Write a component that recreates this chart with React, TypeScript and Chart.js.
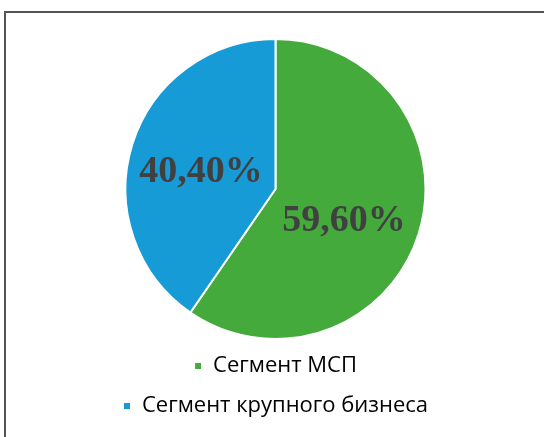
import React, { useEffect, useRef } from 'react';
import { Chart, registerables } from 'chart.js';

Chart.register(...registerables);

const categories = ['Сегмент МСП', 'Сегмент крупного бизнеса'];
const shares = [59.6, 40.4];
const sliceColors = ['#43AA3B', '#179BD6'];

const labelFont = 38;
// small nudges of the value labels (px) relative to the slice mid-angle point
const labelNudge = [
  [-3, 7],
  [-3, 3],
];

const sliceLabels = {
  id: 'sliceLabels',
  afterDatasetsDraw(chart: any) {
    const ctx = chart.ctx;
    const meta = chart.getDatasetMeta(0);
    const values = chart.data.datasets[0].data as number[];
    ctx.save();
    ctx.font = `bold ${labelFont}px "Liberation Serif", "Times New Roman", serif`;
    ctx.fillStyle = '#404040';
    ctx.textAlign = 'center';
    ctx.textBaseline = 'alphabetic';
    meta.data.forEach((arc: any, i: number) => {
      const p = arc.getProps(['x', 'y', 'startAngle', 'endAngle', 'outerRadius'], true);
      const mid = (p.startAngle + p.endAngle) / 2;
      const r = p.outerRadius * 0.5;
      const cx = p.x + Math.cos(mid) * r + labelNudge[i][0];
      const cy = p.y + Math.sin(mid) * r + labelNudge[i][1];
      const txt = values[i].toFixed(2).replace('.', ',') + '%';
      ctx.fillText(txt, cx, cy + labelFont * 0.33);
    });
    ctx.restore();
  },
};

export default function App() {
  const ref = useRef<HTMLCanvasElement | null>(null);
  useEffect(() => {
    if (!ref.current) return;
    const chart = new Chart(ref.current, {
      type: 'pie',
      data: {
        labels: categories,
        datasets: [
          {
            data: shares,
            backgroundColor: sliceColors,
            borderColor: '#ffffff',
            borderWidth: 2,
            radius: 150,
          },
        ],
      },
      options: {
        animation: false,
        responsive: false,
        maintainAspectRatio: false,
        layout: { padding: { top: 41, left: 60, right: 53, bottom: 10 } },
        plugins: {
          tooltip: { enabled: false },
          legend: {
            position: 'bottom',
            labels: {
              boxWidth: 8,
              boxHeight: 8,
              padding: 18,
              color: '#000000',
              font: { family: '"Open Sans", "Noto Sans", sans-serif', size: 22 },
            },
          },
        },
      },
      plugins: [sliceLabels],
    });
    return () => chart.destroy();
  }, []);

  return (
    <div style={{ position: 'fixed', left: 0, top: 0, width: 544, height: 437, overflow: 'hidden', background: '#fff' }}>
      <div
        style={{
          position: 'absolute',
          left: 4,
          top: 11,
          width: 600,
          height: 500,
          border: '2px solid #555',
          boxSizing: 'border-box',
        }}
      />
      <canvas ref={ref} width={544} height={437} style={{ position: 'absolute', left: 0, top: 0, width: 544, height: 437 }} />
    </div>
  );
}
